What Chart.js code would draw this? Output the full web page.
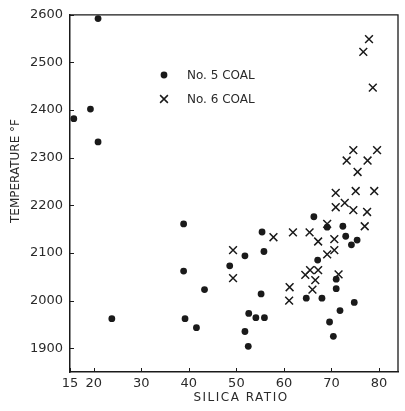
<!DOCTYPE html>
<html>
<head>
<meta charset="utf-8">
<script src="https://cdn.jsdelivr.net/npm/chart.js@4.4.0/dist/chart.umd.min.js"></script>
<style>
  html, body { margin: 0; padding: 0; background: #fff; }
  canvas { display: block; }
</style>
</head>
<body>
<canvas id="c" width="405" height="411"></canvas>
<script>
// ---- data ----
const coal5X = [15.8, 19.3, 20.9, 20.9, 23.8, 38.9, 38.9, 39.2, 41.6, 43.3,
                48.6, 51.8, 51.8, 52.5, 52.6, 54.1, 55.2, 55.4, 55.8, 55.9,
                64.7, 66.3, 67.1, 68.0, 69.1, 69.6, 70.4, 71.0, 71.0, 71.8,
                72.4, 73.0, 74.2, 74.8, 75.4];
const coal5Y = [2382, 2402, 2592, 2333, 1962, 2161, 2062, 1962, 1943, 2023,
                2073, 2094, 1935, 1904, 1973, 1964, 2014, 2144, 2103, 1964,
                2005, 2176, 2085, 2005, 2154, 1955, 1925, 2025, 2045, 1979,
                2156, 2135, 2117, 1996, 2127];
const coal6X = [77.9, 76.7, 78.7, 74.6, 79.6, 73.2, 77.6, 75.5, 70.9, 75.1,
                79.0, 70.9, 72.8, 74.6, 77.5, 77.0, 69.1, 49.3, 49.3, 57.8,
                61.9, 65.4, 67.2, 70.6, 69.1, 70.6, 64.5, 65.5, 67.2, 66.6,
                66.0, 71.5, 61.2, 61.1];
const coal6Y = [2549, 2522, 2447, 2316, 2316, 2294, 2294, 2270, 2226, 2230,
                2230, 2196, 2205, 2190, 2186, 2156, 2161, 2106, 2047, 2133,
                2143, 2143, 2124, 2129, 2097, 2106, 2054, 2064, 2064, 2043,
                2023, 2055, 2028, 2000];
const seriesNames = ['No. 5 COAL', 'No. 6 COAL'];
const xTicks = [15, 20, 30, 40, 50, 60, 70, 80];
const yTicks = [1900, 2000, 2100, 2200, 2300, 2400, 2500, 2600];
const xTitle = 'SILICA RATIO';
const yTitle = 'TEMPERATURE °F';

const ink = '#1a1a1a';
const textInk = '#2a2a2a';
const FONT = '"DejaVu Sans", sans-serif';

const toPts = (xs, ys) => xs.map((x, i) => ({ x: x, y: ys[i] }));

const decor = {
  id: 'decor',
  afterDraw(chart) {
    const ctx = chart.ctx;
    const a = chart.chartArea;
    const xs = chart.scales.x, ys = chart.scales.y;
    ctx.save();
    ctx.strokeStyle = ink;
    ctx.lineWidth = 1.3;
    // top and right frame lines
    ctx.beginPath();
    ctx.moveTo(a.left, a.top); ctx.lineTo(a.right, a.top); ctx.lineTo(a.right, a.bottom);
    ctx.stroke();
    // inward tick marks
    ctx.lineWidth = 1;
    ctx.beginPath();
    xTicks.forEach(v => {
      const px = Math.round(xs.getPixelForValue(v)) + 0.5;
      ctx.moveTo(px, a.bottom); ctx.lineTo(px, a.bottom - 4);
    });
    yTicks.forEach(v => {
      const py = Math.round(ys.getPixelForValue(v)) + 0.5;
      ctx.moveTo(a.left, py); ctx.lineTo(a.left + 4, py);
    });
    ctx.stroke();
    // axis titles
    ctx.fillStyle = textInk;
    ctx.font = '12px ' + FONT;
    ctx.textAlign = 'center';
    ctx.textBaseline = 'middle';
    if (ctx.letterSpacing !== undefined) ctx.letterSpacing = '1.5px';
    ctx.fillText(xTitle, 241, 398);
    if (ctx.letterSpacing !== undefined) ctx.letterSpacing = '0px';
    ctx.save();
    ctx.translate(16, 171);
    ctx.rotate(-Math.PI / 2);
    ctx.fillText(yTitle, 0, 0);
    ctx.restore();
    // legend
    const ds = chart.data.datasets;
    const lx = 164, lys = [75, 99];
    ds.forEach((d, i) => {
      ctx.fillStyle = ink;
      ctx.strokeStyle = ink;
      if (d.pointStyle === 'circle') {
        ctx.beginPath(); ctx.arc(lx, lys[i], d.pointRadius, 0, Math.PI * 2); ctx.fill();
      } else {
        ctx.lineWidth = d.borderWidth;
        ctx.beginPath();
        const r = d.pointRadius * Math.SQRT1_2;
        ctx.moveTo(lx - r, lys[i] - r); ctx.lineTo(lx + r, lys[i] + r);
        ctx.moveTo(lx - r, lys[i] + r); ctx.lineTo(lx + r, lys[i] - r);
        ctx.stroke();
      }
      ctx.fillStyle = textInk;
      ctx.font = '12px ' + FONT;
      ctx.textAlign = 'left';
      ctx.fillText(d.label, 187, lys[i] + 0.5);
    });
    ctx.restore();
  }
};

new Chart(document.getElementById('c'), {
  type: 'scatter',
  data: {
    datasets: [
      {
        label: seriesNames[0],
        data: toPts(coal5X, coal5Y),
        pointStyle: 'circle',
        pointRadius: 3.4,
        borderWidth: 0,
        backgroundColor: ink,
        borderColor: ink
      },
      {
        label: seriesNames[1],
        data: toPts(coal6X, coal6Y),
        pointStyle: 'crossRot',
        pointRadius: 5.5,
        borderWidth: 1.5,
        backgroundColor: ink,
        borderColor: ink
      }
    ]
  },
  options: {
    responsive: false,
    animation: false,
    devicePixelRatio: 1,
    layout: { padding: { top: 9, right: 2, left: 0, bottom: 0 } },
    plugins: { legend: { display: false }, tooltip: { enabled: false } },
    scales: {
      x: {
        type: 'linear',
        min: 15, max: 84,
        grid: { display: false, drawTicks: false },
        border: { display: true, color: ink, width: 1.5 },
        afterBuildTicks: s => { s.ticks = xTicks.map(v => ({ value: v })); },
        afterFit: s => { s.height = 39; },
        ticks: {
          color: textInk, padding: 4, maxRotation: 0, autoSkip: false,
          font: { family: FONT, size: 13 },
          callback: v => String(v)
        }
      },
      y: {
        type: 'linear',
        min: 1850, max: 2600,
        grid: { display: false, drawTicks: false },
        border: { display: true, color: ink, width: 1.5 },
        afterBuildTicks: s => { s.ticks = yTicks.map(v => ({ value: v })); },
        afterFit: s => { s.width = 70; },
        ticks: {
          color: textInk, padding: 7, autoSkip: false,
          font: { family: FONT, size: 13 },
          callback: v => String(v)
        }
      }
    }
  },
  plugins: [decor]
});
</script>
</body>
</html>
